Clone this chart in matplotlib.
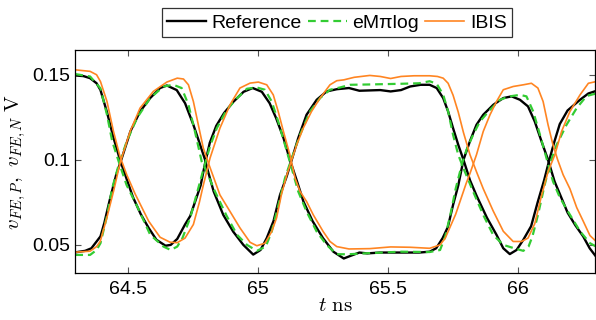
import numpy as np
import matplotlib
matplotlib.use("Agg")
import matplotlib.pyplot as plt

plt.rcParams['font.family'] = ['Liberation Sans', 'DejaVu Sans']
plt.rcParams['mathtext.fontset'] = 'cm'

# far-end voltages, P and N lines, time in ns, voltage in V
t_ref_p = [64.298, 64.33, 64.355, 64.38, 64.395, 64.42, 64.445, 64.47, 64.495, 64.52, 64.55, 64.58,
           64.61, 64.645, 64.665, 64.69, 64.72, 64.74, 64.76, 64.78, 64.797, 64.815, 64.84, 64.87,
           64.905, 64.945, 64.98, 65.015, 65.045, 65.07, 65.098, 65.123, 65.15, 65.175, 65.21, 65.25,
           65.29, 65.33, 65.355, 65.39, 65.42, 65.47, 65.55, 65.62, 65.66, 65.685, 65.71, 65.73,
           65.75, 65.77, 65.79, 65.815, 65.84, 65.866, 65.905, 65.943, 65.975, 66.007, 66.038, 66.064,
           66.09, 66.115, 66.14, 66.16, 66.19, 66.22, 66.25, 66.275, 66.3]
v_ref_p = [0.1496, 0.1492, 0.148, 0.145, 0.141, 0.128, 0.113, 0.100, 0.089, 0.078, 0.068, 0.060,
           0.053, 0.0495, 0.050, 0.0535, 0.062, 0.067, 0.076, 0.085, 0.098, 0.110, 0.120, 0.1275,
           0.134, 0.140, 0.1422, 0.140, 0.1333, 0.1245, 0.113, 0.100, 0.0875, 0.0755, 0.064, 0.054,
           0.046, 0.042, 0.0435, 0.0455, 0.045, 0.0455, 0.0455, 0.0455, 0.046, 0.048, 0.054, 0.0605,
           0.0735, 0.085, 0.100, 0.111, 0.1206, 0.1265, 0.1324, 0.1363, 0.1373, 0.1353, 0.1314, 0.1225,
           0.1108, 0.100, 0.0873, 0.080, 0.069, 0.0615, 0.055, 0.048, 0.043]

t_ref_n = [64.298, 64.336, 64.36, 64.38, 64.395, 64.41, 64.43, 64.455, 64.477, 64.51, 64.547, 64.586,
           64.624, 64.65, 64.688, 64.72, 64.752, 64.778, 64.797, 64.805, 64.83, 64.867, 64.905, 64.944,
           64.982, 65.01, 65.034, 65.06, 65.085, 65.11, 65.13, 65.155, 65.187, 65.226, 65.264, 65.303,
           65.35, 65.39, 65.43, 65.47, 65.51, 65.55, 65.585, 65.625, 65.66, 65.687, 65.712, 65.731,
           65.75, 65.77, 65.79, 65.815, 65.84, 65.88, 65.917, 65.943, 65.968, 65.994, 66.02, 66.05,
           66.075, 66.1, 66.12, 66.14, 66.16, 66.19, 66.238, 66.27, 66.3]
v_ref_n = [0.0456, 0.0465, 0.048, 0.052, 0.055, 0.063, 0.076, 0.091, 0.101, 0.1167, 0.1284, 0.1363,
           0.1422, 0.1437, 0.141, 0.1333, 0.1206, 0.1088, 0.100, 0.095, 0.0814, 0.0676, 0.0578, 0.050,
           0.0443, 0.047, 0.054, 0.064, 0.0794, 0.090, 0.100, 0.1128, 0.1265, 0.1353, 0.1402, 0.1415,
           0.1422, 0.1406, 0.1408, 0.141, 0.1402, 0.141, 0.1431, 0.1441, 0.1441, 0.1422, 0.1363, 0.1284,
           0.1186, 0.1088, 0.100, 0.088, 0.079, 0.066, 0.0559, 0.048, 0.0446, 0.047, 0.053, 0.061,
           0.075, 0.088, 0.100, 0.111, 0.121, 0.129, 0.1353, 0.139, 0.1405]

t_emp_p = [64.298, 64.355, 64.395, 64.42, 64.44, 64.465, 64.495, 64.535, 64.586, 64.637, 64.665, 64.69,
           64.71, 64.74, 64.765, 64.79, 64.816, 64.842, 64.88, 64.92, 64.958, 64.996, 65.027, 65.053,
           65.078, 65.104, 65.13, 65.155, 65.187, 65.226, 65.264, 65.303, 65.35, 65.42, 65.55, 65.66,
           65.70, 65.72, 65.74, 65.76, 65.785, 65.802, 65.827, 65.853, 65.892, 65.93, 65.968, 66.007,
           66.032, 66.058, 66.084, 66.109, 66.134, 66.16, 66.19, 66.238, 66.276, 66.3]
v_emp_p = [0.1504, 0.149, 0.142, 0.1265, 0.111, 0.099, 0.0853, 0.073, 0.056, 0.049, 0.047, 0.049,
           0.054, 0.066, 0.080, 0.094, 0.108, 0.1186, 0.1294, 0.1363, 0.1418, 0.1425, 0.1412, 0.1343,
           0.1226, 0.1088, 0.095, 0.0814, 0.0696, 0.0578, 0.050, 0.0445, 0.0445, 0.0451, 0.046, 0.0458,
           0.047, 0.055, 0.068, 0.083, 0.098, 0.106, 0.1147, 0.1225, 0.1294, 0.1353, 0.1373, 0.1382,
           0.1373, 0.1284, 0.1147, 0.101, 0.0873, 0.078, 0.070, 0.058, 0.051, 0.049]

t_emp_n = [64.298, 64.355, 64.38, 64.395, 64.42, 64.44, 64.465, 64.496, 64.535, 64.586, 64.637, 64.675,
           64.707, 64.733, 64.758, 64.784, 64.803, 64.835, 64.88, 64.92, 64.958, 64.996, 65.03, 65.053,
           65.078, 65.104, 65.13, 65.162, 65.2, 65.239, 65.277, 65.315, 65.354, 65.43, 65.55, 65.62,
           65.66, 65.687, 65.712, 65.731, 65.75, 65.77, 65.79, 65.827, 65.866, 65.904, 65.943, 65.985,
           66.02, 66.04, 66.055, 66.076, 66.102, 66.125, 66.148, 66.186, 66.225, 66.263, 66.3]
v_emp_n = [0.0441, 0.0441, 0.047, 0.051, 0.067, 0.0833, 0.097, 0.1108, 0.1245, 0.1363, 0.1431, 0.1441,
           0.1422, 0.1324, 0.1167, 0.099, 0.093, 0.0814, 0.067, 0.0559, 0.050, 0.0465, 0.049, 0.0578,
           0.073, 0.0892, 0.101, 0.1147, 0.1284, 0.1363, 0.1412, 0.1425, 0.1441, 0.1443, 0.1447, 0.145,
           0.1462, 0.1447, 0.1383, 0.1284, 0.1147, 0.1029, 0.095, 0.0814, 0.0676, 0.0559, 0.050, 0.048,
           0.0465, 0.049, 0.055, 0.0675, 0.0853, 0.099, 0.1088, 0.1206, 0.1304, 0.1375, 0.139]

t_ibis_p = [64.298, 64.355, 64.38, 64.395, 64.42, 64.445, 64.47, 64.496, 64.528, 64.58, 64.624, 64.662,
            64.69, 64.72, 64.752, 64.775, 64.79, 64.816, 64.854, 64.893, 64.931, 64.97, 65.002, 65.034,
            65.059, 65.078, 65.098, 65.123, 65.143, 65.162, 65.187, 65.213, 65.251, 65.277, 65.303, 65.35,
            65.43, 65.51, 65.585, 65.66, 65.70, 65.72, 65.74, 65.76, 65.78, 65.80, 65.815, 65.84,
            65.866, 65.892, 65.917, 65.943, 65.981, 66.02, 66.051, 66.076, 66.096, 66.115, 66.134, 66.152,
            66.173, 66.199, 66.225, 66.25, 66.276, 66.3]
v_ibis_p = [0.1529, 0.152, 0.150, 0.146, 0.1343, 0.1167, 0.102, 0.0912, 0.080, 0.064, 0.0545, 0.0516,
            0.0513, 0.054, 0.062, 0.075, 0.085, 0.101, 0.1186, 0.1324, 0.1422, 0.1451, 0.1457, 0.1441,
            0.1382, 0.1284, 0.1167, 0.1029, 0.0892, 0.0814, 0.0755, 0.0676, 0.0578, 0.052, 0.049, 0.0476,
            0.0478, 0.0488, 0.0486, 0.048, 0.050, 0.054, 0.061, 0.068, 0.077, 0.086, 0.092, 0.103,
            0.1167, 0.1265, 0.1343, 0.1412, 0.1431, 0.1441, 0.145, 0.1422, 0.1343, 0.1206, 0.1088, 0.100,
            0.0912, 0.083, 0.072, 0.064, 0.0555, 0.052]

t_ibis_n = [64.298, 64.355, 64.38, 64.394, 64.419, 64.445, 64.47, 64.509, 64.547, 64.598, 64.65, 64.69,
            64.714, 64.733, 64.752, 64.771, 64.79, 64.81, 64.829, 64.854, 64.893, 64.931, 64.97, 64.996,
            65.027, 65.053, 65.072, 65.091, 65.111, 65.13, 65.149, 65.174, 65.206, 65.239, 65.277, 65.303,
            65.33, 65.37, 65.43, 65.47, 65.51, 65.55, 65.6, 65.66, 65.69, 65.712, 65.731, 65.75,
            65.77, 65.79, 65.815, 65.84, 65.866, 65.904, 65.943, 65.981, 66.013, 66.038, 66.064, 66.09,
            66.115, 66.141, 66.167, 66.199, 66.238, 66.27, 66.3]
v_ibis_n = [0.0457, 0.0463, 0.049, 0.052, 0.0657, 0.0814, 0.098, 0.1167, 0.1304, 0.1402, 0.1457, 0.148,
            0.1475, 0.1441, 0.1343, 0.1206, 0.107, 0.098, 0.090, 0.0794, 0.0696, 0.060, 0.0515, 0.0495,
            0.051, 0.0578, 0.066, 0.080, 0.091, 0.100, 0.1088, 0.1186, 0.1284, 0.1363, 0.1441, 0.1465,
            0.147, 0.1485, 0.1496, 0.149, 0.1478, 0.149, 0.1494, 0.1494, 0.149, 0.148, 0.145, 0.138,
            0.128, 0.116, 0.103, 0.093, 0.083, 0.070, 0.058, 0.052, 0.052, 0.054, 0.0625, 0.079,
            0.093, 0.1029, 0.1167, 0.1284, 0.1382, 0.145, 0.146]

c_ref = 'black'
c_emp = '#33cc33'
c_ibis = '#ff8522'

fig = plt.figure(figsize=(5.96, 3.2), dpi=100)
ax = fig.add_axes([0.1258, 0.147, 0.8732, 0.697])

ax.plot(t_ref_p, v_ref_p, color=c_ref, lw=1.7, label='Reference')
ax.plot(t_ref_n, v_ref_n, color=c_ref, lw=1.7)
ax.plot(t_emp_p, v_emp_p, color=c_emp, lw=1.6, ls=(0, (3.5, 2.2)), label='eM\u03c0log')
ax.plot(t_emp_n, v_emp_n, color=c_emp, lw=1.6, ls=(0, (3.5, 2.2)))
ax.plot(t_ibis_p, v_ibis_p, color=c_ibis, lw=1.2, label='IBIS')
ax.plot(t_ibis_n, v_ibis_n, color=c_ibis, lw=1.2)

ax.set_xlim(64.297, 66.297)
ax.set_ylim(0.0335, 0.1646)
ax.set_xticks([64.5, 65, 65.5, 66])
ax.set_xticklabels(['64.5', '65', '65.5', '66'])
ax.set_yticks([0.05, 0.1, 0.15])
ax.set_yticklabels(['0.05', '0.1', '0.15'])
ax.tick_params(direction='in', length=4, width=0.8, top=True, right=True,
               labelsize=14, color='#555555')
ax.tick_params(axis='x', pad=6)
ax.tick_params(axis='y', pad=3.5)
for s in ax.spines.values():
    s.set_linewidth(0.9)

ax.set_xlabel(r'$t\ \mathrm{ns}$', fontsize=15, labelpad=-2)
ax.set_ylabel(r'$v_{FE,P},\ v_{FE,N}\ \mathrm{V}$', fontsize=15, labelpad=3)

leg = ax.legend(loc='lower center', bbox_to_anchor=(0.503, 1.058), ncol=3, frameon=True,
                fancybox=False, fontsize=14, handlelength=2.0, handletextpad=0.3,
                columnspacing=0.3, borderpad=0.28, borderaxespad=0)
leg.get_frame().set_edgecolor('black')
leg.get_frame().set_linewidth(0.9)

fig.savefig('out.png', dpi=100)
